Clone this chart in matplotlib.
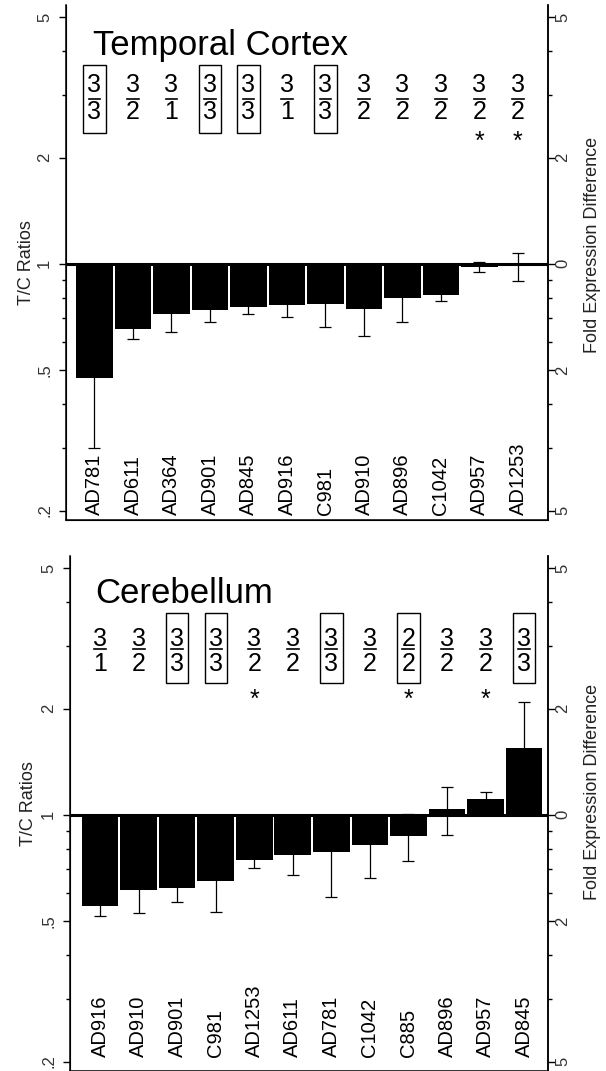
import numpy as np
import matplotlib
matplotlib.use("Agg")
import matplotlib.pyplot as plt
import matplotlib.transforms as mtransforms
from matplotlib.patches import Rectangle
from matplotlib.ticker import NullFormatter, FixedLocator

plt.rcParams['font.family'] = ['Liberation Sans', 'DejaVu Sans']

# Temporal cortex data
tc_names = ["AD781", "AD611", "AD364", "AD901", "AD845", "AD916",
            "C981", "AD910", "AD896", "C1042", "AD957", "AD1253"]
tc_ratio = [0.475, 0.653, 0.72, 0.739, 0.754, 0.762, 0.77, 0.747, 0.80, 0.817, 0.98, 0.985]
tc_err = [0.175, 0.041, 0.081, 0.054, 0.032, 0.054, 0.107, 0.122, 0.115, 0.031, 0.03, 0.09]
tc_num = [3, 3, 3, 3, 3, 3, 3, 3, 3, 3, 3, 3]
tc_den = [3, 2, 1, 3, 3, 1, 3, 2, 2, 2, 2, 2]
tc_star = [False] * 10 + [True, True]

# Cerebellum data
cb_names = ["AD916", "AD910", "AD901", "C981", "AD1253", "AD611",
            "AD781", "C1042", "C885", "AD896", "AD957", "AD845"]
cb_ratio = [0.55, 0.613, 0.622, 0.65, 0.747, 0.769, 0.786, 0.822, 0.872, 1.038, 1.112, 1.545]
cb_err = [0.032, 0.087, 0.054, 0.118, 0.038, 0.094, 0.201, 0.16, 0.13, 0.16, 0.05, 0.545]
cb_num = [3, 3, 3, 3, 3, 3, 3, 3, 2, 3, 3, 3]
cb_den = [1, 2, 3, 3, 2, 2, 3, 2, 2, 2, 2, 3]
cb_star = [False, False, False, False, True, False, False, False, True, False, True, False]

left_ticks = [0.2, 0.5, 1, 2, 5]
left_labels = [".2", ".5", "1", "2", "5"]
right_labels = ["5", "2", "0", "2", "5"]
minor_ticks = [0.3, 0.4, 0.6, 0.7, 0.8, 0.9, 3, 4]

fig = plt.figure(figsize=(6.06, 10.71), dpi=100)


def draw_panel(rect, title, names, ratio, err, num, den, star, xlim, lay):
    ax = fig.add_axes(rect)
    x = np.arange(len(names))
    r = np.array(ratio)
    ax.set_yscale('log')
    ax.bar(x, r - 1, bottom=1, width=0.95, color='black', zorder=2)
    ax.errorbar(x, r, yerr=err, fmt='none', ecolor='black', elinewidth=0.9,
                capsize=4.3, capthick=0.9, zorder=3)
    ax.axhline(1, color='black', lw=2.2, zorder=4)
    ax.set_xlim(*xlim)
    ax.set_ylim(0.188, 5.41)
    ax.set_xticks([])

    ax.spines['top'].set_visible(False)
    for s in ['left', 'right', 'bottom']:
        ax.spines[s].set_linewidth(1.1)

    ax.yaxis.set_major_locator(FixedLocator(left_ticks))
    ax.yaxis.set_minor_locator(FixedLocator(minor_ticks))
    ax.set_yticklabels(left_labels, rotation=90, va='center', color='#333333')
    ax.yaxis.set_minor_formatter(NullFormatter())
    ax.tick_params(axis='y', which='major', length=5, width=1, labelsize=12, pad=5)
    ax.tick_params(axis='y', which='minor', length=3, width=1)
    ax.set_ylabel("T/C Ratios", fontsize=13, color='#222222')
    ax.yaxis.set_label_coords(lay['ylab_x'], lay['ylab_y'])

    ax2 = ax.twinx()
    ax2.set_yscale('log')
    ax2.set_ylim(ax.get_ylim())
    ax2.spines['top'].set_visible(False)
    ax2.spines['right'].set_linewidth(1.1)
    ax2.yaxis.set_major_locator(FixedLocator(left_ticks))
    ax2.yaxis.set_minor_locator(FixedLocator(minor_ticks))
    ax2.set_yticklabels(right_labels, rotation=90, va='center', color='#333333')
    ax2.yaxis.set_minor_formatter(NullFormatter())
    ax2.tick_params(axis='y', which='major', length=5, width=1, labelsize=12, pad=0)
    ax2.tick_params(axis='y', which='minor', length=3, width=1)
    ax2.set_ylabel("Fold Expression Difference", fontsize=13, color='#222222')
    ax2.yaxis.set_label_coords(lay['rlab_x'], lay['rlab_y'])

    tr = mtransforms.blended_transform_factory(ax.transData, ax.transAxes)
    ax.text(lay['title_x'], lay['title_y'], title, transform=ax.transAxes,
            fontsize=25, ha='left', va='baseline')
    for i in range(len(names)):
        ax.text(x[i], lay['num'], str(num[i]), transform=tr, ha='center',
                va='center', fontsize=18)
        ax.text(x[i], lay['den'], str(den[i]), transform=tr, ha='center',
                va='center', fontsize=18)
        ax.plot([x[i] - 0.155, x[i] + 0.155], [lay['line'], lay['line']],
                transform=tr, color='black', lw=1.2, clip_on=False)
        if num[i] == den[i]:
            ax.add_patch(Rectangle((x[i] - 0.29, lay['box_lo']), 0.58,
                                   lay['box_hi'] - lay['box_lo'], transform=tr,
                                   fill=False, lw=1.0, ec='black'))
        if star[i]:
            ax.text(x[i], lay['star'], "*", transform=tr, ha='center',
                    va='center', fontsize=18)
        ax.text(x[i], lay['lab_y'], names[i], transform=tr, rotation=90,
                ha='center', va='bottom', fontsize=14.5)
    return ax


tc_lay = dict(num=0.844, den=0.792, line=0.818, box_lo=0.751, box_hi=0.883,
              star=0.735, title_x=0.056, title_y=0.903, lab_y=0.01,
              ylab_x=-0.065, ylab_y=0.50, rlab_x=1.075, rlab_y=0.534)
cb_lay = dict(num=0.838, den=0.790, line=0.819, box_lo=0.753, box_hi=0.889,
              star=0.72, title_x=0.052, title_y=0.909, lab_y=0.027,
              ylab_x=-0.07, ylab_y=0.52, rlab_x=1.075, rlab_y=0.542)

draw_panel([66 / 606, 1 - 520 / 1071, 482 / 606, 515 / 1071], "Temporal Cortex",
           tc_names, tc_ratio, tc_err, tc_num, tc_den, tc_star, (-0.74, 11.78), tc_lay)
draw_panel([70 / 606, 0.0, 478 / 606, 515 / 1071], "Cerebellum",
           cb_names, cb_ratio, cb_err, cb_num, cb_den, cb_star, (-0.78, 11.62), cb_lay)

fig.savefig("out.png", dpi=100)
